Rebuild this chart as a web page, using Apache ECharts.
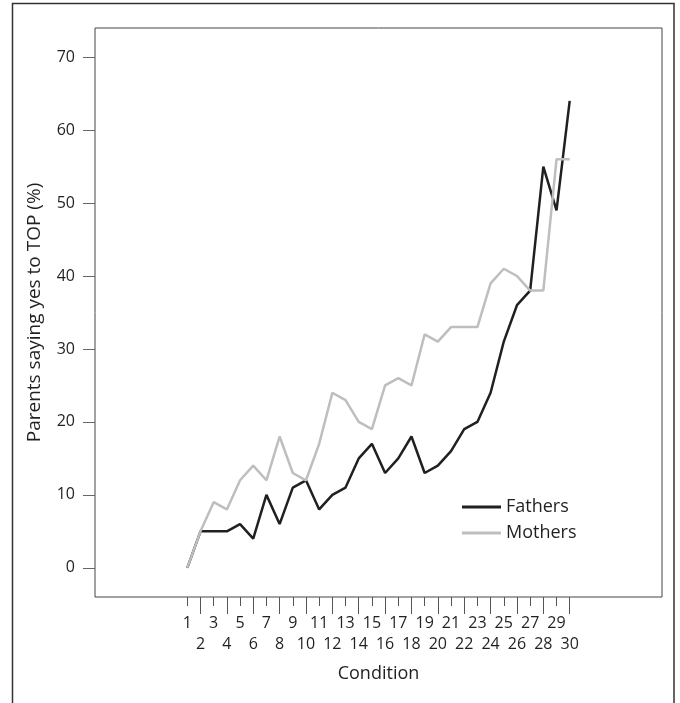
<!DOCTYPE html>
<html>
<head>
<meta charset="utf-8">
<script src="https://cdn.jsdelivr.net/npm/echarts@6/dist/echarts.min.js"></script>
<style>
html,body{margin:0;padding:0;background:#fff;}
#chart{width:680px;height:703px;}
</style>
</head>
<body>
<div id="chart"></div>
<script>
const conditions = [1,2,3,4,5,6,7,8,9,10,11,12,13,14,15,16,17,18,19,20,21,22,23,24,25,26,27,28,29,30];
const fathers = [0,5,5,5,6,4,10,6,11,12,8,10,11,15,17,13,15,18,13,14,16,19,20,24,31,36,38,55,49,64];
const mothers = [0,5,9,8,12,14,12,18,13,12,17,24,23,20,19,25,26,25,32,31,33,33,33,39,41,40,38,38,56,56];
const yTicks = [0,10,20,30,40,50,60,70];
const xOddTicks = [1,3,5,7,9,11,13,15,17,19,21,23,25,27,29];
const xEvenTicks = [2,4,6,8,10,12,14,16,18,20,22,24,26,28,30];

const FONT = 'Open Sans';
const TXT = '#231f20';

const chart = echarts.init(document.getElementById('chart'), null, {renderer: 'canvas'});

function xAxisDef(ticks, tickLen, labelMargin, withName) {
  return {
    type: 'value', min: -6, max: 37, position: 'bottom', gridIndex: 0,
    axisLine: {show: false, onZero: false},
    splitLine: {show: false},
    axisTick: {show: true, customValues: ticks, length: tickLen, lineStyle: {color: '#555', width: 1}},
    axisLabel: {show: true, customValues: ticks, margin: labelMargin, color: TXT, fontFamily: FONT, fontSize: 16},
    name: withName ? 'Condition' : '',
    nameLocation: 'middle', nameGap: 68,
    nameTextStyle: {color: TXT, fontFamily: FONT, fontSize: 18}
  };
}

chart.setOption({
  animation: false,
  backgroundColor: '#fff',
  grid: {left: 95, top: 28, right: 18, bottom: 106, show: true, borderColor: '#444', borderWidth: 1, containLabel: false},
  xAxis: [xAxisDef(xOddTicks, 9, 18, true), xAxisDef(xEvenTicks, 17, 39, false)],
  yAxis: {
    type: 'value', min: -4, max: 74,
    axisLine: {show: false, onZero: false},
    splitLine: {show: false},
    axisTick: {show: true, customValues: yTicks, length: 12, lineStyle: {color: '#666', width: 1}},
    axisLabel: {show: true, customValues: yTicks, margin: 20, color: TXT, fontFamily: FONT, fontSize: 16},
    name: 'Parents saying yes to TOP (%)',
    nameLocation: 'middle', nameGap: 51, nameRotate: 90,
    nameTextStyle: {color: TXT, fontFamily: FONT, fontSize: 19}
  },
  legend: {
    orient: 'vertical', left: 457, top: 492,
    icon: 'rect', itemWidth: 39, itemHeight: 3, itemGap: 6,
    textStyle: {color: TXT, fontFamily: FONT, fontSize: 18, lineHeight: 20},
    data: ['Fathers', 'Mothers']
  },
  graphic: [{
    type: 'rect', silent: true,
    shape: {x: 12.5, y: 3.5, width: 661.5, height: 740},
    style: {fill: 'none', stroke: '#333', lineWidth: 1.5}
  }],
  series: [
    {
      name: 'Fathers', type: 'line', xAxisIndex: 0,
      data: conditions.map((c, i) => [c, fathers[i]]),
      showSymbol: false, symbol: 'none',
      lineStyle: {color: '#231f20', width: 2.5},
      itemStyle: {color: '#231f20'}
    },
    {
      name: 'Mothers', type: 'line', xAxisIndex: 0,
      data: conditions.map((c, i) => [c, mothers[i]]),
      showSymbol: false, symbol: 'none',
      lineStyle: {color: '#bcbec0', width: 2.5},
      itemStyle: {color: '#bcbec0'}
    }
  ]
});
</script>
</body>
</html>
